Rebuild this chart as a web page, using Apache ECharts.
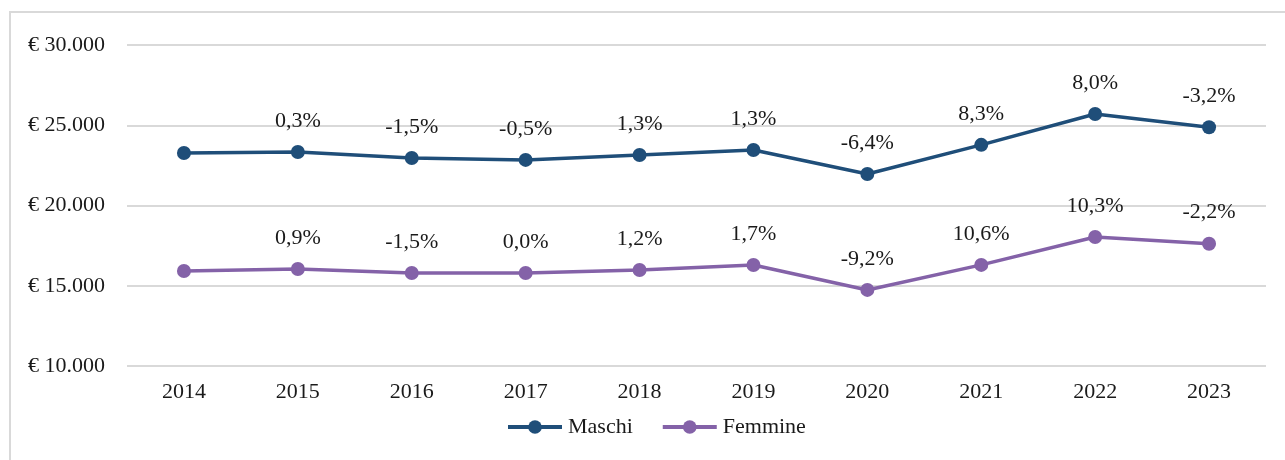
<!DOCTYPE html>
<html>
<head>
<meta charset="utf-8">
<script src="https://cdn.jsdelivr.net/npm/echarts@6/dist/echarts.min.js"></script>
<style>
  html, body { margin: 0; padding: 0; background: #fff; }
  #frame {
    position: absolute; left: 9px; top: 11px; width: 1290px; height: 470px;
    border-left: 2px solid #d9d9d9; border-top: 2px solid #d9d9d9;
  }
  #chart { position: absolute; left: 0; top: 0; width: 1285px; height: 460px; }
</style>
</head>
<body>
<div id="frame"></div>
<div id="chart"></div>
<script>
// years on the x axis
const years = ['2014', '2015', '2016', '2017', '2018', '2019', '2020', '2021', '2022', '2023'];

// average income
const maschi = [23270, 23330, 22960, 22840, 23150, 23460, 21960, 23780, 25700, 24880];
const femmine = [15920, 16040, 15790, 15790, 15980, 16290, 14740, 16300, 18040, 17620];

// year-on-year change labels
const maschiPct = ['', '0,3%', '-1,5%', '-0,5%', '1,3%', '1,3%', '-6,4%', '8,3%', '8,0%', '-3,2%'];
const femminePct = ['', '0,9%', '-1,5%', '0,0%', '1,2%', '1,7%', '-9,2%', '10,6%', '10,3%', '-2,2%'];

const font = '"Liberation Serif", "DejaVu Serif", serif';
const chart = echarts.init(document.getElementById('chart'));

const makeSeries = (name, values, pct, color) => ({
  name: name,
  type: 'line',
  data: values,
  symbol: 'circle',
  symbolSize: 14,
  lineStyle: { width: 3.5, color: color },
  itemStyle: { color: color },
  label: {
    show: true,
    position: 'top',
    distance: 13,
    color: '#1a1a1a',
    fontFamily: font,
    fontSize: 22,
    formatter: p => pct[p.dataIndex]
  },
  emphasis: { disabled: true }
});

chart.setOption({
  animation: false,
  textStyle: { fontFamily: font },
  legend: {
    bottom: 17,
    left: 501,
    itemWidth: 54,
    itemHeight: 17,
    itemGap: 28,
    lineStyle: { width: 4 },
    textStyle: { color: '#1a1a1a', fontSize: 22, fontFamily: font, padding: [0, 0, 0, 1] },
    data: ['Maschi', 'Femmine']
  },
  grid: { left: 127, right: 19, top: 45, bottom: 94 },
  xAxis: {
    type: 'category',
    data: years,
    boundaryGap: true,
    axisLine: { show: false },
    axisTick: { show: false },
    axisLabel: { color: '#1a1a1a', fontSize: 22, fontFamily: font, margin: 15 }
  },
  yAxis: {
    type: 'value',
    min: 10000,
    max: 30000,
    interval: 5000,
    axisLine: { show: false },
    axisTick: { show: false },
    splitLine: { lineStyle: { color: '#d9d9d9', width: 2 } },
    axisLabel: {
      color: '#1a1a1a', fontSize: 22, fontFamily: font, margin: 22,
      formatter: v => '€ ' + v.toLocaleString('de-DE')
    }
  },
  series: [
    makeSeries('Maschi', maschi, maschiPct, '#1f4e79'),
    makeSeries('Femmine', femmine, femminePct, '#8462a8')
  ]
});
</script>
</body>
</html>
